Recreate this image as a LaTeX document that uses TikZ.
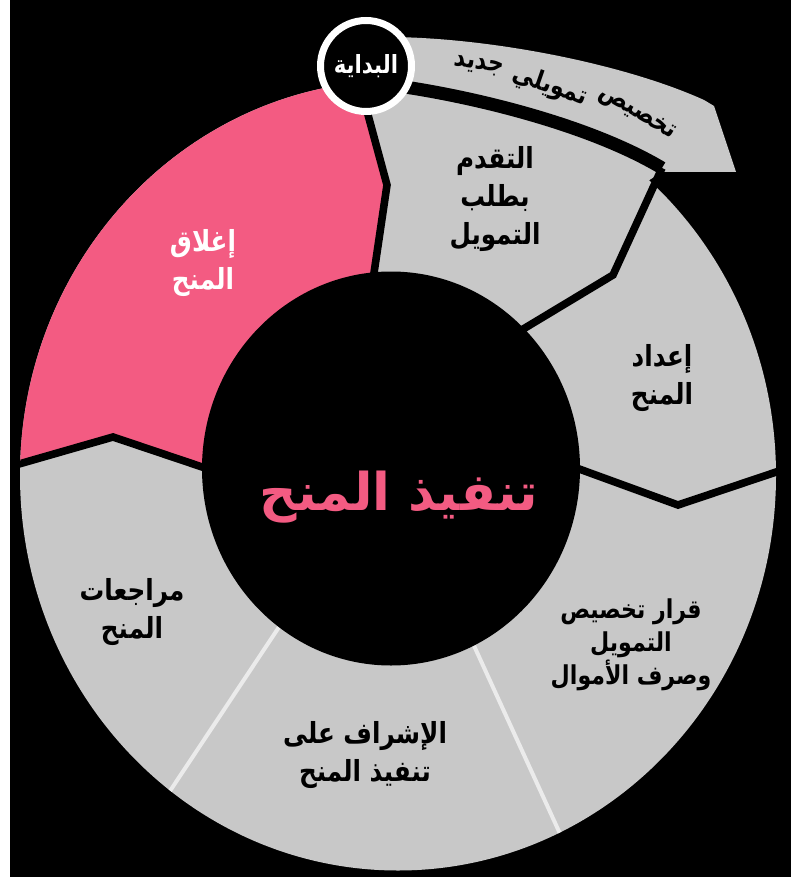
\documentclass[tikz,border=0pt]{standalone}
\usepackage{fontspec}
\newfontfamily\arabicfont[Script=Arabic]{DejaVu Sans}
\newfontfamily\arabicnarrow[Script=Arabic, FakeStretch=0.85]{DejaVu Sans}
\TeXXeTstate=1
\newcommand{\rtltext}[1]{\beginR#1\endR}
\definecolor{seg}{HTML}{C8C8C8}
\definecolor{pinkseg}{HTML}{F35B82}
\definecolor{sep}{HTML}{EBEBEB}
\tikzset{
  cut/.style={draw=black, line width=3.8pt},
  softcut/.style={draw=sep, line width=2pt},
  gap/.style={draw=black, line width=6.5pt},
  lbl/.style={text=black, font=\arabicnarrow\bfseries\fontsize{14.5}{19}\selectfont, align=center, inner sep=0pt},
  wlbl/.style={lbl, text=white},
  arrowtxt/.style={text=black, font=\arabicnarrow\bfseries\fontsize{13}{15}\selectfont, inner sep=0pt},
  title/.style={text=pinkseg, font=\arabicfont\bfseries\fontsize{26}{32}\selectfont, inner sep=0pt},
  startnode/.style={circle, fill=black, draw=white, line width=3.5pt, minimum size=45.5pt, inner sep=0pt,
    text=white, font=\arabicnarrow\bfseries\fontsize{12.5}{14}\selectfont}
}
\begin{document}
\begin{tikzpicture}[x=0.5pt, y=-0.5pt]
  \useasboundingbox (0,0) rectangle (791,877);
  \fill[black] (0,0) rectangle (791,877);
  \fill[white] (0,0) rectangle (10,877);
  \coordinate (ringC) at (398,475.5);
  \coordinate (hubC) at (391,468.5);
  % boundary points
  \coordinate (a0) at (364,100);
  \coordinate (a1) at (387,185);
  \coordinate (a2) at (370,300);
  \coordinate (b0) at (662,168);
  \coordinate (b1) at (613,275);
  \coordinate (b2) at (510,337);
  \coordinate (c0) at (800,464);
  \coordinate (c1) at (678,505);
  \coordinate (c2) at (560,462);
  \coordinate (f0) at (19,464);
  \coordinate (f1) at (113,437);
  \coordinate (f2) at (220,473);
  \coordinate (d0) at (470,637);
  \coordinate (d1) at (562,838);
  \coordinate (e0) at (283,621);
  \coordinate (e1) at (168,794);
  % ring
  \fill[seg] (ringC) ellipse [x radius=378, y radius=395];
  \begin{scope}
    \clip (ringC) ellipse [x radius=378, y radius=395];
    \fill[pinkseg] (a0) -- (a1) -- (a2) -- (hubC) -- (f2) -- (f1) -- (f0) -- (-20,470) -- (-20,-20) -- (364,-20) -- cycle;
    \draw[softcut] (d0) -- (d1);
    \draw[softcut] (e0) -- (e1);
    \draw[cut] (f0) -- (f1) -- (f2);
  \end{scope}
  % arrow over the ring
  \fill[seg] (380,37) .. controls (480,36) and (620,62) .. (704,100) -- (714,106) -- (736,172)
    -- (662,172) -- (640,186) .. controls (560,125) and (470,95) .. (380,92) -- cycle;
  \draw[gap] (398,86) .. controls (475,97) and (590,125) .. (b0);
  \draw[cut] (a0) -- (a1) -- (a2);
  \draw[cut] (b0) -- (b1) -- (b2);
  \draw[cut] (c0) -- (c1) -- (c2);
  % hub
  \fill[black] (hubC) ellipse [x radius=189, y radius=197];
  \node[startnode] (start) at (366,66) {\rtltext{البداية}};
  % labels
  \node[arrowtxt, rotate=-8] (w3) at (479,66) {\rtltext{جديد}};
  \node[arrowtxt, rotate=-19] (w2) at (550,86) {\rtltext{تمويلي}};
  \node[arrowtxt, rotate=-31] (w1) at (637,114) {\rtltext{تخصيص}};
  \node[wlbl] (close) at (203,263) {\rtltext{إغلاق}\\\rtltext{المنح}};
  \node[lbl] (apply) at (495,199) {\rtltext{التقدم}\\\rtltext{بطلب}\\\rtltext{التمويل}};
  \node[lbl] (prep) at (662,378) {\rtltext{إعداد}\\\rtltext{المنح}};
  \node[lbl, font=\arabicnarrow\bfseries\fontsize{13}{16.5}\selectfont] (decide) at (631,645)
    {\rtltext{قرار تخصيص}\\\rtltext{التمويل}\\\rtltext{وصرف الأموال}};
  \node[lbl] (watch) at (365,755) {\rtltext{الإشراف على}\\\rtltext{تنفيذ المنح}};
  \node[lbl] (review) at (132,612) {\rtltext{مراجعات}\\\rtltext{المنح}};
  \node[title] (hub) at (399,497) {\rtltext{تنفيذ المنح}};
\end{tikzpicture}
\end{document}
